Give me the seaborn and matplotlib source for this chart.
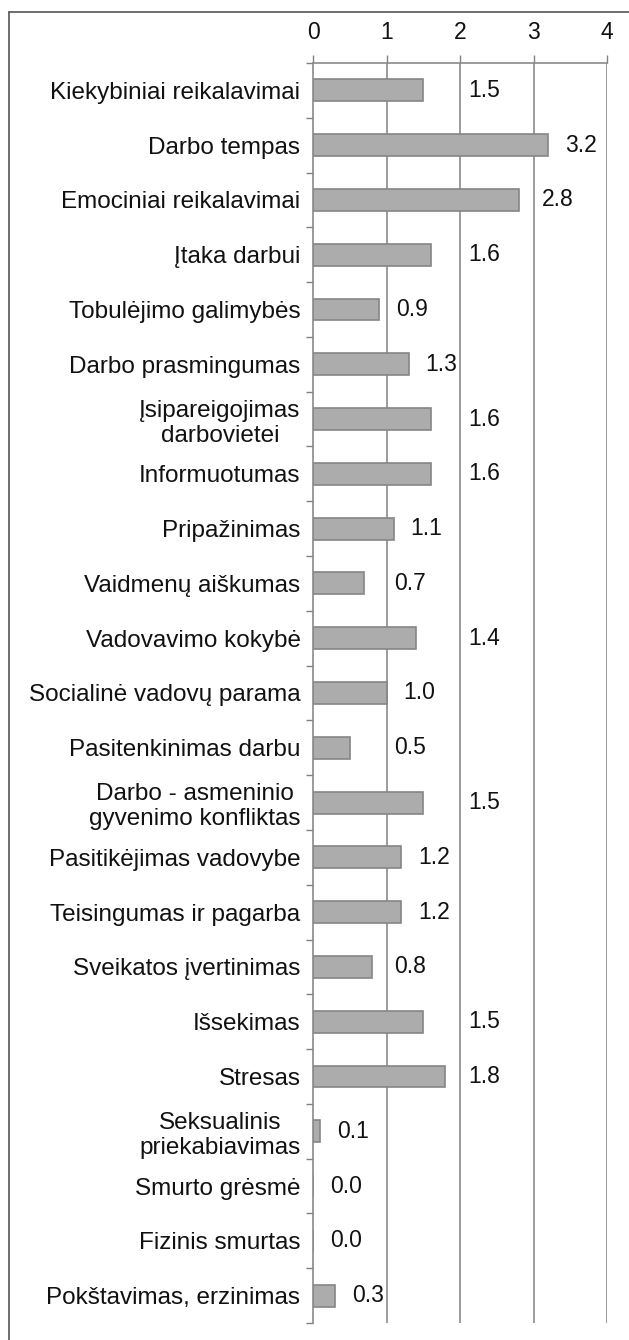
import matplotlib
matplotlib.use('Agg')
import matplotlib.pyplot as plt
import seaborn as sns
import pandas as pd
from matplotlib.lines import Line2D

categories = [
    'Kiekybiniai reikalavimai', 'Darbo tempas', 'Emociniai reikalavimai',
    'Įtaka darbui', 'Tobulėjimo galimybės', 'Darbo prasmingumas',
    'Įsipareigojimas\ndarbovietei', 'Informuotumas', 'Pripažinimas',
    'Vaidmenų aiškumas', 'Vadovavimo kokybė', 'Socialinė vadovų parama',
    'Pasitenkinimas darbu', 'Darbo - asmeninio\ngyvenimo konfliktas',
    'Pasitikėjimas vadovybe', 'Teisingumas ir pagarba', 'Sveikatos įvertinimas',
    'Išsekimas', 'Stresas', 'Seksualinis\npriekabiavimas', 'Smurto grėsmė',
    'Fizinis smurtas', 'Pokštavimas, erzinimas',
]
values = [1.5, 3.2, 2.8, 1.6, 0.9, 1.3, 1.6, 1.6, 1.1, 0.7, 1.4, 1.0, 0.5,
          1.5, 1.2, 1.2, 0.8, 1.5, 1.8, 0.1, 0.0, 0.0, 0.3]
x_ticks = [0, 1, 2, 3, 4]

df = pd.DataFrame({'cat': categories, 'val': values})

sns.set_style('white')
plt.rcParams['font.family'] = ['Liberation Sans', 'DejaVu Sans']

fig = plt.figure(figsize=(6.29, 13.4), dpi=100)
ax = fig.add_axes([313/629, 1 - 1323/1340, (607 - 313)/629, (1323 - 63)/1340])

sns.barplot(data=df, x='val', y='cat', orient='h', color='#acacac',
            saturation=1, width=0.4, edgecolor='#858585', linewidth=1.2, ax=ax)

ax.set_xlim(0, 4)
ax.set_ylim(len(categories) - 0.5, -0.5)
ax.set_xticks(x_ticks)
ax.xaxis.tick_top()
ax.tick_params(axis='x', length=6, width=1, color='#808080', pad=8,
               labelsize=16.5, labelcolor='#111111')
ax.set_xlabel('')
ax.set_ylabel('')

# y ticks at category boundaries
ax.set_yticks([i - 0.5 for i in range(len(categories) + 1)], minor=True)
ax.tick_params(axis='y', which='minor', length=5, width=1, color='#808080', left=True)
ax.tick_params(axis='y', which='major', length=0, pad=9,
               labelsize=17.5, labelcolor='#111111')
for t in ax.get_yticklabels():
    t.set_multialignment('center')

for x in x_ticks[1:]:
    ax.axvline(x, color='#8a8a8a', lw=1.2, zorder=0)

for s in ['right', 'bottom']:
    ax.spines[s].set_visible(False)
for s in ['top', 'left']:
    ax.spines[s].set_color('#8a8a8a')
    ax.spines[s].set_linewidth(1.2)

# value labels, nudged past a gridline when they would sit on it
labels = ax.bar_label(ax.containers[0], labels=[f'{v:.1f}' for v in values],
                      padding=12, fontsize=16.5, color='#111111')
fig.canvas.draw()
renderer = fig.canvas.get_renderer()
for ann, v in zip(labels, values):
    bb = ann.get_window_extent(renderer)
    bar_px = ax.transData.transform((v, 0))[0]
    for g in x_ticks[1:]:
        gx = ax.transData.transform((g, 0))[0]
        if bb.x0 - 3 < gx < bb.x1 + 2:
            ann.xyann = ((gx + 8 - bar_px) * 72 / fig.dpi, 0)
            break

# outer frame (top and left edges only visible)
fig.add_artist(Line2D([9/629, 1], [1 - 12/1340] * 2, color='#555555', lw=1.2))
fig.add_artist(Line2D([9/629] * 2, [0, 1 - 12/1340], color='#555555', lw=1.2))

fig.savefig('out.png', dpi=100)
